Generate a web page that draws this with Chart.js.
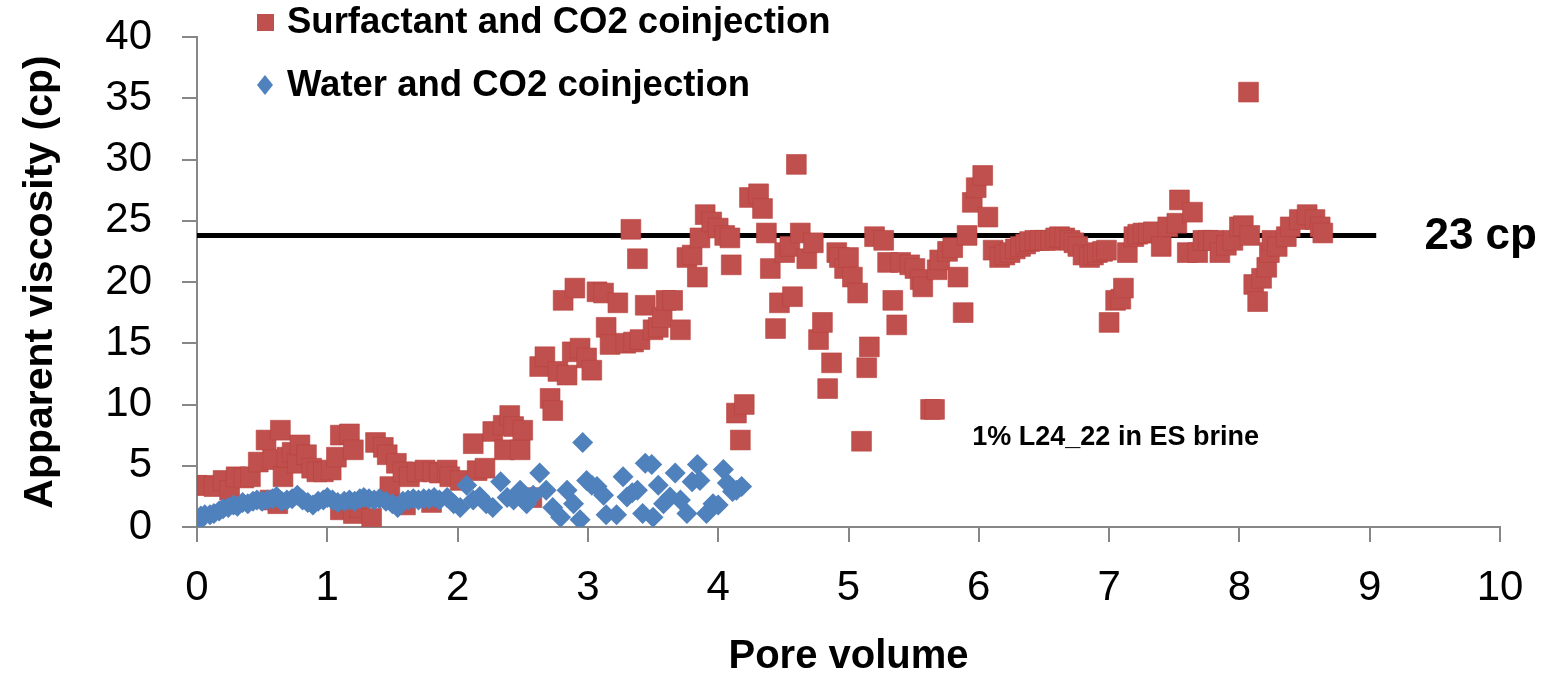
<!DOCTYPE html>
<html lang="en">
<head>
    <meta charset="UTF-8">
    <title>Apparent viscosity vs pore volume</title>
    <style>
        html, body { margin: 0; padding: 0; background: #fff; }
    </style>
</head>
<body>
    <canvas id="myChart" width="1547" height="673"></canvas>
    <script src="https://cdn.jsdelivr.net/npm/chart.js"></script>
    <script>
    // surfactant + CO2 coinjection (red squares)
    const surfX = [0.00, 0.08, 0.13, 0.20, 0.25, 0.30, 0.36, 0.41, 0.47, 0.53, 0.56, 0.58, 0.62, 0.64, 0.66, 0.69, 0.73, 0.77, 0.79, 0.84,
        0.88, 0.92, 0.97, 1.03, 1.07, 1.10, 1.10, 1.17, 1.20, 1.20, 1.25, 1.34, 1.37, 1.43, 1.46, 1.48, 1.53, 1.58, 1.60, 1.63,
        1.69, 1.75, 1.80, 1.81, 1.86, 1.92, 1.94, 2.02, 2.12, 2.15, 2.21, 2.27, 2.35, 2.36, 2.40, 2.43, 2.48, 2.50, 2.57, 2.63,
        2.67, 2.71, 2.73, 2.77, 2.81, 2.84, 2.88, 2.90, 2.94, 2.99, 3.03, 3.07, 3.12, 3.14, 3.17, 3.23, 3.29, 3.33, 3.35, 3.38,
        3.40, 3.44, 3.50, 3.54, 3.57, 3.60, 3.65, 3.71, 3.76, 3.80, 3.84, 3.86, 3.90, 3.95, 4.00, 4.05, 4.09, 4.10, 4.14, 4.17,
        4.20, 4.24, 4.31, 4.34, 4.37, 4.40, 4.44, 4.47, 4.51, 4.55, 4.57, 4.60, 4.63, 4.68, 4.73, 4.77, 4.80, 4.84, 4.87, 4.91,
        4.93, 4.97, 5.00, 5.03, 5.07, 5.10, 5.14, 5.16, 5.20, 5.27, 5.30, 5.34, 5.37, 5.40, 5.47, 5.51, 5.55, 5.57, 5.63, 5.66,
        5.68, 5.70, 5.76, 5.80, 5.84, 5.88, 5.91, 5.95, 5.98, 6.03, 6.07, 6.11, 6.16, 6.20, 6.24, 6.28, 6.32, 6.36, 6.39, 6.43,
        6.47, 6.51, 6.55, 6.59, 6.62, 6.66, 6.70, 6.73, 6.76, 6.80, 6.85, 6.88, 6.91, 6.95, 6.98, 7.00, 7.05, 7.09, 7.11, 7.14,
        7.19, 7.22, 7.26, 7.30, 7.34, 7.40, 7.45, 7.52, 7.54, 7.60, 7.64, 7.68, 7.72, 7.76, 7.80, 7.85, 7.90, 7.95, 8.00, 8.03,
        8.07, 8.08, 8.11, 8.14, 8.17, 8.21, 8.23, 8.25, 8.29, 8.36, 8.39, 8.46, 8.52, 8.58, 8.62, 8.64];
    const surfY = [3.4, 3.4, 3.3, 3.8, 3.0, 4.1, 4.0, 4.1, 5.3, 7.1, 2.2, 5.5, 1.9, 7.9, 4.1, 5.7, 6.1, 5.2, 6.7, 5.9,
        4.8, 4.5, 4.5, 4.65, 5.7, 7.5, 1.4, 7.6, 6.3, 1.1, 1.6, 0.7, 6.9, 6.5, 5.9, 3.3, 5.2, 4.5, 1.8, 4.1,
        4.5, 4.65, 2.0, 4.5, 4.4, 4.65, 4.1, 3.8, 6.8, 4.6, 4.8, 7.8, 8.3, 6.3, 9.1, 8.2, 6.3, 7.9, 2.4, 13.1,
        13.9, 10.5, 9.5, 12.7, 18.5, 12.4, 14.3, 19.5, 14.6, 13.8, 12.8, 19.2, 19.1, 16.3, 14.9, 18.3, 15.0, 24.3, 15.1, 21.9,
        15.3, 18.1, 16.1, 16.3, 17.1, 18.5, 18.5, 16.1, 22.0, 22.2, 20.4, 23.6, 25.5, 24.9, 24.4, 23.8, 23.6, 21.4, 9.3, 7.1,
        10.0, 26.9, 27.2, 26.0, 24.0, 21.1, 16.2, 18.3, 22.4, 22.9, 18.8, 29.6, 24.0, 21.9, 23.2, 15.3, 16.7, 11.3, 13.4, 22.4,
        22.0, 21.1, 22.0, 20.4, 19.1, 7.0, 13.0, 14.7, 23.7, 23.4, 21.6, 18.5, 16.5, 21.6, 21.4, 21.1, 20.2, 19.6, 9.6, 9.6,
        21.0, 21.8, 22.5, 22.8, 20.4, 17.5, 23.8, 26.5, 27.7, 28.7, 25.3, 22.6, 22.0, 22.2, 22.4, 22.7, 22.9, 23.1, 23.3, 23.4,
        23.4, 23.4, 23.4, 23.6, 23.7, 23.6, 23.4, 23.2, 22.9, 22.2, 22.0, 22.2, 22.4, 22.5, 22.6, 16.7, 18.5, 18.6, 19.5, 22.4,
        23.7, 23.9, 24.0, 24.0, 24.1, 22.9, 24.5, 24.8, 26.7, 22.4, 25.7, 22.4, 23.4, 23.4, 23.4, 22.4, 23.0, 23.4, 24.5, 24.6,
        35.5, 23.8, 19.8, 18.4, 20.3, 21.2, 22.4, 23.4, 22.9, 23.7, 24.5, 25.1, 25.5, 25.1, 24.5, 24.0];

    // water + CO2 coinjection (blue diamonds)
    const waterX = [0.00, 0.03, 0.06, 0.10, 0.13, 0.17, 0.20, 0.24, 0.28, 0.31, 0.35, 0.39, 0.43, 0.46, 0.50, 0.54, 0.58, 0.61, 0.65, 0.69,
        0.73, 0.77, 0.81, 0.85, 0.89, 0.93, 0.97, 1.00, 1.04, 1.08, 1.13, 1.17, 1.21, 1.25, 1.28, 1.32, 1.36, 1.40, 1.45, 1.50,
        1.54, 1.58, 1.62, 1.66, 1.70, 1.74, 1.78, 1.82, 1.86, 1.92, 1.97, 2.02, 2.07, 2.12, 2.17, 2.22, 2.27, 2.33, 2.38, 2.43,
        2.48, 2.53, 2.58, 2.63, 2.68, 2.73, 2.79, 2.84, 2.89, 2.94, 2.96, 2.99, 3.03, 3.07, 3.12, 3.14, 3.22, 3.27, 3.30, 3.34,
        3.38, 3.42, 3.44, 3.49, 3.50, 3.54, 3.58, 3.63, 3.67, 3.71, 3.76, 3.80, 3.84, 3.86, 3.91, 3.96, 4.00, 4.04, 4.07, 4.11,
        4.14, 4.18];
    const waterY = [0.3, 0.9, 1.0, 1.0, 1.1, 1.3, 1.5, 1.6, 1.8, 1.7, 2.0, 1.9, 2.1, 2.2, 2.1, 2.2, 2.3, 2.5, 2.1, 2.2,
        2.3, 2.6, 2.2, 2.0, 1.8, 2.1, 2.2, 2.4, 2.2, 2.0, 2.1, 2.2, 2.1, 2.3, 2.4, 2.3, 2.2, 2.3, 2.1, 1.9,
        1.6, 2.1, 2.2, 2.3, 2.2, 2.3, 2.3, 2.4, 2.2, 2.4, 1.9, 1.6, 3.4, 2.2, 2.5, 1.9, 1.6, 3.7, 2.4, 2.2,
        3.0, 1.9, 2.6, 4.4, 3.0, 1.6, 0.8, 3.0, 1.9, 0.6, 6.9, 3.8, 3.4, 3.3, 2.6, 1.0, 1.0, 4.1, 2.45, 2.8,
        3.0, 1.1, 5.2, 5.1, 0.8, 3.4, 1.9, 2.45, 4.4, 2.2, 1.1, 3.7, 5.1, 3.8, 1.1, 1.9, 1.8, 4.7, 3.6, 2.9,
        3.0, 3.3];

    // reference level line
    const refLevel = 23.8;
    const refFrom = 0;
    const refTo = 9.05;

    const xTicks = [0, 1, 2, 3, 4, 5, 6, 7, 8, 9, 10];
    const yTicks = [0, 5, 10, 15, 20, 25, 30, 35, 40];

    const RED = '#C0504D';
    const BLUE = '#4F81BD';
    const AXIS = '#878787';
    const FONT = "'Liberation Sans', Arial, sans-serif";

    function toPoints(xs, ys) {
        return xs.map((x, i) => ({ x: x, y: ys[i] }));
    }

    const labelsPlugin = {
        id: 'labels',
        afterDraw(chart) {
            const ctx = chart.ctx;
            const xs = chart.scales.x, ys = chart.scales.y;
            ctx.save();
            ctx.fillStyle = '#000';
            ctx.textBaseline = 'middle';
            ctx.textAlign = 'left';

            // legend
            ctx.fillStyle = RED;
            ctx.fillRect(257, 14, 17, 17);
            ctx.fillStyle = BLUE;
            ctx.beginPath();
            ctx.moveTo(265, 75);
            ctx.lineTo(273, 85);
            ctx.lineTo(265, 95);
            ctx.lineTo(257, 85);
            ctx.closePath();
            ctx.fill();
            ctx.fillStyle = '#000';
            ctx.font = 'bold 36.5px ' + FONT;
            ctx.fillText('Surfactant and CO2 coinjection', 287, 23);
            ctx.fillText('Water and CO2 coinjection', 287, 86);

            // level label
            ctx.font = 'bold 44px ' + FONT;
            ctx.fillText('23 cp', xs.getPixelForValue(9.42), ys.getPixelForValue(refLevel) + 1);

            // sample note
            ctx.font = 'bold 27px ' + FONT;
            ctx.fillText('1% L24_22 in ES brine', xs.getPixelForValue(5.95), ys.getPixelForValue(7.3));
            ctx.restore();
        }
    };

    const ctx = document.getElementById('myChart');
    const myChart = new Chart(ctx, {
        type: 'scatter',
        data: {
            datasets: [{
                label: 'Water and CO2 coinjection',
                data: toPoints(waterX, waterY),
                pointStyle: 'rectRot',
                pointRadius: 10.5,
                pointHoverRadius: 10.5,
                backgroundColor: BLUE,
                borderColor: BLUE,
                borderWidth: 0
            }, {
                label: 'Surfactant and CO2 coinjection',
                data: toPoints(surfX, surfY),
                pointStyle: 'rect',
                pointRadius: 14,
                pointHoverRadius: 14,
                backgroundColor: RED,
                borderColor: '#B8413E',
                borderWidth: 0.6
            }, {
                label: '23 cp',
                type: 'line',
                data: [{ x: refFrom, y: refLevel }, { x: refTo, y: refLevel }],
                borderColor: '#000',
                borderWidth: 5,
                pointRadius: 0,
                fill: false
            }]
        },
        options: {
            responsive: false,
            animation: false,
            layout: { padding: { left: 0, right: 47, top: 37, bottom: 0 } },
            plugins: {
                legend: { display: false },
                tooltip: { enabled: false }
            },
            scales: {
                x: {
                    type: 'linear',
                    min: 0,
                    max: 10,
                    afterFit(s) { s.height = 146; },
                    afterBuildTicks(s) { s.ticks = xTicks.map(v => ({ value: v })); },
                    border: { display: true, color: AXIS, width: 2 },
                    grid: { drawOnChartArea: false, drawTicks: true, tickLength: 15, color: AXIS, lineWidth: 2 },
                    ticks: { color: '#000', padding: 21, font: { family: FONT, size: 42 } },
                    title: {
                        display: true,
                        text: 'Pore volume',
                        color: '#000',
                        font: { family: FONT, size: 40, weight: 'bold', lineHeight: 1 },
                        padding: { top: 0, bottom: -4 }
                    }
                },
                y: {
                    min: 0,
                    max: 40,
                    afterFit(s) {
                        s.width = 197;
                        s.paddingTop = 10;
                        s.paddingBottom = 10;
                    },
                    afterBuildTicks(s) { s.ticks = yTicks.map(v => ({ value: v })); },
                    border: { display: true, color: AXIS, width: 2 },
                    grid: { drawOnChartArea: false, drawTicks: true, tickLength: 15, color: AXIS, lineWidth: 2 },
                    ticks: { color: '#000', padding: 30, font: { family: FONT, size: 42 } },
                    title: {
                        display: true,
                        text: 'Apparent viscosity (cp)',
                        color: '#000',
                        font: { family: FONT, size: 41, weight: 'bold', lineHeight: 1 },
                        padding: { top: 20, bottom: 0 }
                    }
                }
            }
        },
        plugins: [labelsPlugin]
    });
    </script>
</body>
</html>
